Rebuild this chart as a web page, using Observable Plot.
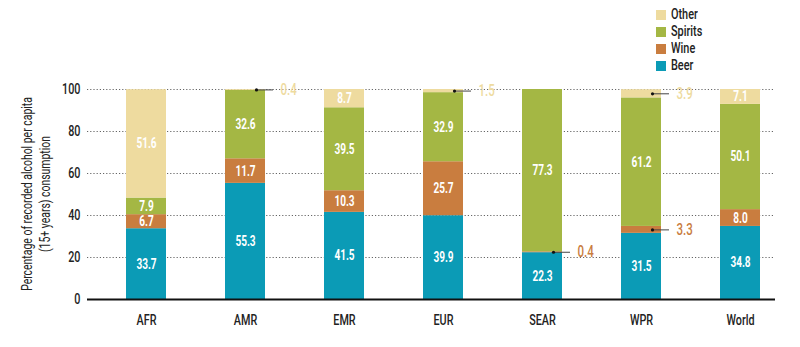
<!DOCTYPE html>
<html>
<head>
<meta charset="utf-8">
<script src="https://cdn.jsdelivr.net/npm/d3@7"></script>
<script src="https://cdn.jsdelivr.net/npm/@observablehq/plot@0.6"></script>
<style>
  html, body { margin: 0; padding: 0; background: #fff; }
  #wrap { position: relative; width: 800px; height: 347px; font-family: Roboto, 'DejaVu Sans', sans-serif; }
  #legend { position: absolute; left: 656px; top: 6px; font-size: 14.5px; font-weight: 500; color: #222; }
  #legend .row { display: flex; align-items: center; height: 17px; }
  #legend .sw { width: 10px; height: 10px; margin-right: 5px; flex: none; }
  #legend .lab { display: inline-block; transform: scaleX(0.75); transform-origin: left center; }
</style>
</head>
<body>
<div id="wrap">
  <div id="chart"></div>
  <div id="legend"></div>
</div>
<script>
const regions = ["AFR", "AMR", "EMR", "EUR", "SEAR", "WPR", "World"];
const types = ["Beer", "Wine", "Spirits", "Other"];
const beer    = [33.7, 55.3, 41.5, 39.9, 22.3, 31.5, 34.8];
const wine    = [6.7, 11.7, 10.3, 25.7, 0.4, 3.3, 8.0];
const spirits = [7.9, 32.6, 39.5, 32.9, 77.3, 61.2, 50.1];
const other   = [51.6, 0.4, 8.7, 1.5, 0.0, 3.9, 7.1];
const colors  = ["#0b9bb6", "#c97d3f", "#a4b744", "#eedb9f"];
const yTicks  = [0, 20, 40, 60, 80, 100];
const yLabelLines = ["Percentage of recorded alcohol per capita", "(15+ years) consumption"];

const series = [beer, wine, spirits, other];
const data = [];
regions.forEach((r, i) => types.forEach((t, j) => data.push({region: r, type: t, value: series[j][i]})));

const big = d => d.value >= 5;
const small = d => d.value > 0 && d.value < 5;
const st = extra => Plot.stackY({x: "region", y: "value", z: "type", order: types, ...extra});

const marginLeft = 87, marginTop = 89, marginBottom = 48, H = 347;

const chart = Plot.plot({
  width: 800,
  height: H,
  marginLeft,
  marginRight: 25,
  marginTop,
  marginBottom,
  style: {fontFamily: "Roboto, 'DejaVu Sans', sans-serif", fontSize: "15px", fontWeight: 500, color: "#222", background: "#fff"},
  x: {domain: regions, range: [94.2, 791.9], paddingInner: 0.6, paddingOuter: 0.3, label: null, tickSize: 0, tickPadding: 15},
  y: {domain: [0, 100], ticks: yTicks, label: null, tickSize: 0, tickPadding: 7},
  color: {domain: types, range: colors},
  marks: [
    Plot.gridY(yTicks.filter(d => d > 0), {stroke: "#666", strokeOpacity: 1, strokeDasharray: "1.2,2", strokeWidth: 1}),
    Plot.barY(data, st({fill: "type"})),
    Plot.ruleY([0], {stroke: "#111", strokeWidth: 2}),
    Plot.text(data, Plot.filter(big, st({text: d => d.value.toFixed(1), fill: "white", fontSize: 14, fontWeight: "bold"}))),
    Plot.tickY(data, Plot.filter(small, st({stroke: "#444", strokeWidth: 1, insetLeft: 31, insetRight: -8}))),
    Plot.dot(data, Plot.filter(small, st({r: 1.6, fill: "#111", stroke: "none", dx: 11}))),
    Plot.text(data, Plot.filter(small, st({text: d => d.value.toFixed(1), fill: "type", dx: 35, textAnchor: "start", fontSize: 16})))
  ]
});
// condensed look: compress glyphs horizontally (text stays real text)
d3.select(chart).selectAll("text").each(function () {
  const t = this.getAttribute("transform") || "";
  this.setAttribute("transform", (t + " scale(0.72,1)").trim());
});

// two-line rotated y-axis title
const cy = (marginTop + (H - marginBottom)) / 2;
const title = d3.select(chart).append("text")
  .attr("transform", `translate(36,${cy}) rotate(-90) scale(0.72,1)`)
  .attr("text-anchor", "middle")
  .attr("fill", "#222")
  .attr("font-size", 14.5)
  .attr("font-weight", 400);
yLabelLines.forEach((line, i) => {
  title.append("tspan").attr("x", 0).attr("y", (i - 0.5) * 18).attr("dy", "0.35em").text(line);
});

document.getElementById("chart").appendChild(chart);

const legend = document.getElementById("legend");
types.slice().reverse().forEach(t => {
  const row = document.createElement("div");
  row.className = "row";
  const sw = document.createElement("span");
  sw.className = "sw";
  sw.style.background = colors[types.indexOf(t)];
  const lab = document.createElement("span");
  lab.className = "lab";
  lab.textContent = t;
  row.appendChild(sw); row.appendChild(lab);
  legend.appendChild(row);
});
</script>
</body>
</html>
